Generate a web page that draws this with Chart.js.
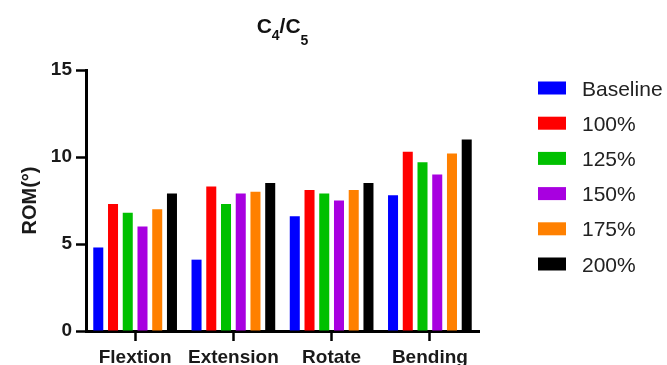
<!DOCTYPE html>
<html>
<head>
<meta charset="utf-8">
<script src="https://cdn.jsdelivr.net/npm/chart.js@4"></script>
<style>
  html, body { margin: 0; padding: 0; background: #fff; }
  canvas { display: block; }
</style>
</head>
<body>
<canvas id="rom" width="667" height="365"></canvas>
<script>
// Range of motion per motion direction, C4/C5 segment
const categories = ['Flextion', 'Extension', 'Rotate', 'Bending'];
const seriesNames = ['Baseline', '100%', '125%', '150%', '175%', '200%'];
const seriesColors = ['#0000ff', '#ff0000', '#00c000', '#a800e0', '#ff8000', '#000000'];

const baseline = [4.8, 4.1, 6.6, 7.8];
const pct100   = [7.3, 8.3, 8.1, 10.3];
const pct125   = [6.8, 7.3, 7.9, 9.7];
const pct150   = [6.0, 7.9, 7.5, 9.0];
const pct175   = [7.0, 8.0, 8.1, 10.2];
const pct200   = [7.9, 8.5, 8.5, 11.0];

const yMin = 0, yMax = 15, yStep = 5;
const yTitle = 'ROM(°)';
// title pieces: [text, isSubscript, baseline drop]
const titleParts = [['C', false, 0], ['4', true, 6.5], ['/', false, 0], ['C', false, 0], ['5', true, 12]];

const FONT = "'Liberation Sans', Arial, Helvetica, sans-serif";
const seriesValues = [baseline, pct100, pct125, pct150, pct175, pct200];

// Title with subscripts, centred over the plot area
const subTitle = {
  id: 'subTitle',
  afterDraw(chart) {
    const ctx = chart.ctx;
    const area = chart.chartArea;
    const big = 'bold 21px ' + FONT, small = 'bold 14px ' + FONT;
    ctx.save();
    let total = 0;
    titleParts.forEach(p => { ctx.font = p[1] ? small : big; total += ctx.measureText(p[0]).width; });
    let x = (area.left + area.right) / 2 - total / 2;
    const base = 33;
    ctx.fillStyle = '#111';
    ctx.textBaseline = 'alphabetic';
    ctx.textAlign = 'left';
    titleParts.forEach(p => {
      ctx.font = p[1] ? small : big;
      ctx.fillText(p[0], x, base + p[2]);
      x += ctx.measureText(p[0]).width;
    });
    ctx.restore();
  }
};

// Legend column to the right of the plot
const sideLegend = {
  id: 'sideLegend',
  afterDraw(chart) {
    const ctx = chart.ctx;
    const boxX = 538, boxW = 28, boxH = 13, textX = 582, top = 88, step = 35.2;
    ctx.save();
    ctx.font = '21px ' + FONT;
    ctx.textBaseline = 'alphabetic';
    ctx.textAlign = 'left';
    chart.data.datasets.forEach((ds, i) => {
      const cy = top + i * step;
      ctx.fillStyle = ds.backgroundColor;
      ctx.fillRect(boxX, cy - boxH / 2, boxW, boxH);
      ctx.fillStyle = '#222';
      ctx.fillText(ds.label, textX, cy + 7.5);
    });
    ctx.restore();
  }
};

new Chart(document.getElementById('rom'), {
  type: 'bar',
  data: {
    labels: categories,
    datasets: seriesNames.map((name, i) => ({
      label: name,
      data: seriesValues[i],
      backgroundColor: seriesColors[i],
      borderWidth: 0,
      barPercentage: 0.68,
      categoryPercentage: 0.9
    }))
  },
  options: {
    responsive: false,
    devicePixelRatio: 1,
    animation: false,
    layout: { padding: { top: 70, right: 188, left: 0, bottom: 0 } },
    plugins: { legend: { display: false }, title: { display: false }, tooltip: { enabled: false } },
    scales: {
      x: {
        offset: true,
        z: 1,
        grid: { drawOnChartArea: false, drawTicks: true, offset: false, tickLength: 10, tickWidth: 2.5, tickColor: '#000' },
        border: { display: true, color: '#000', width: 3 },
        ticks: { font: { family: FONT, size: 19, weight: 'bold' }, color: '#1a1a1a', padding: 5, maxRotation: 0 },
        afterFit(s) { s.height = 34; }
      },
      y: {
        min: yMin,
        max: yMax,
        grid: { drawOnChartArea: false, drawTicks: true, tickLength: 10, tickWidth: 2.5, tickColor: '#000' },
        border: { display: true, color: '#000', width: 3 },
        ticks: { stepSize: yStep, font: { family: FONT, size: 19, weight: 'bold' }, color: '#1a1a1a', padding: 4 },
        title: { display: true, text: yTitle, font: { family: FONT, size: 20, weight: 'bold' }, color: '#1a1a1a', padding: { top: 18, bottom: 0 } },
        afterFit(s) { s.width = 86; }
      }
    }
  },
  plugins: [subTitle, sideLegend]
});
</script>
</body>
</html>
